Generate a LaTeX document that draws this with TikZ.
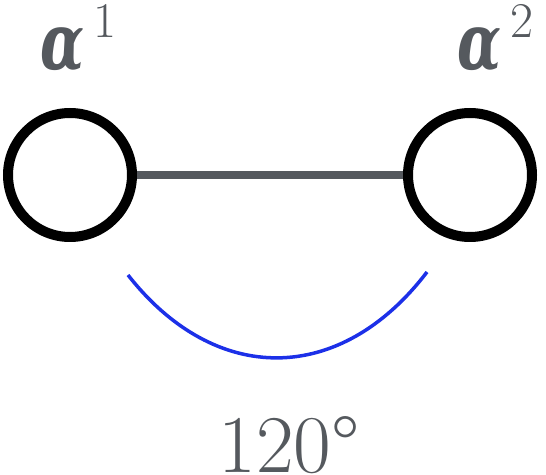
\documentclass[tikz,border=0pt]{standalone}
\usepackage{fontspec}
\newfontfamily\greekfont{DejaVu Serif}
\definecolor{labelgray}{RGB}{85,89,94}
\definecolor{arcblue}{RGB}{28,48,232}
\tikzset{
   root/.style={draw=black, circle, line width=10pt, minimum size=124pt, inner sep=0pt},
   rootlabel/.style={text=labelgray, anchor=base west, inner sep=0pt, font=\fontsize{50}{52}\selectfont},
   bond/.style={draw=labelgray, line width=8pt},
   anglearc/.style={draw=arcblue, line width=3.5pt}
}
\newcommand{\rootname}[1]{\resizebox{44pt}{42pt}{\greekfont\bfseries\itshape α}\hspace{9pt}\raisebox{32pt}{#1}}
\begin{document}
\begin{tikzpicture}[x=1pt, y=1pt]
      \useasboundingbox (0,0) rectangle (546,474);
      \def \Roots {
         1/70/40,
         2/470/457}
      \foreach \u / \x / \l in \Roots {
         \node[root] (a\u) at (\x, 299) {};
         \node[rootlabel] (l\u) at (\l, 404) {\rootname{\u}};
      }
      \path[bond] (a1) -- (a2);
      \coordinate (arcL) at (128, 199);
      \coordinate (arcR) at (427, 202);
      \path[anglearc] (arcL) .. controls (215, 88) and (340, 88) .. (arcR);
      \node[text=labelgray, anchor=base, inner sep=0pt, font=\fontsize{82}{84}\selectfont] (angle) at (289, 2) {120\textdegree};
   \end{tikzpicture}
\end{document}
